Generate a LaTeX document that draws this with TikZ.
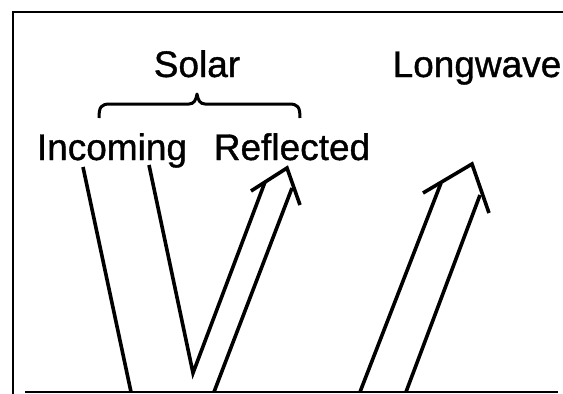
\documentclass[tikz,border=0pt]{standalone}
\usepackage{fontspec}
\setmainfont{Liberation Sans}
\newfontfamily\labelfont[FakeBold=1]{Liberation Sans}
\usepackage{tikz}
\usetikzlibrary{positioning}

\begin{document}
\begin{tikzpicture}[
  x=1pt, y=-1pt,
  ray/.style={line width=3.6pt},
  frameline/.style={line width=2.6pt},
  lbl/.style={inner sep=0pt, anchor=base, font=\labelfont\fontsize{37}{40}\selectfont},
  bracestyle/.style={line width=3pt, line join=round}
]
\useasboundingbox (0,0) rectangle (563,394);

% Frame and ground
\draw[frameline] (563,12) -- (13,12) -- (13,394);
\draw[frameline] (25,392) -- (558,392);

% Labels
\node[lbl] (solar) at (197,77) {Solar};
\node[lbl] (longwave) at (477,77) {Longwave};
\node[lbl] (incoming) at (112,160) {Incoming};
\node[lbl] (reflected) at (292,160) {Reflected};

% Brace over the solar pair
\coordinate (bl) at (99,118);
\coordinate (bm) at (197,94);
\coordinate (br) at (300,118);
\draw[bracestyle] (bl) .. controls (99,107) and (101,104) .. (110,104)
  -- (189,104) .. controls (194,104) and (196,100) .. (bm)
  .. controls (198,100) and (200,104) .. (205,104)
  -- (289,104) .. controls (298,104) and (300,107) .. (br);

% Incoming solar
\coordinate (in1top) at (83,167);
\coordinate (in1bot) at (131,392);
\coordinate (in2top) at (149,165);
\coordinate (vee) at (193,373);
\draw[ray] (in1top) -- (in1bot);

% Reflected solar
\coordinate (rfin) at (265,182);
\coordinate (rfbot) at (214,392);
\coordinate (rfout) at (292,188);
\coordinate (rfl) at (251,191);
\coordinate (rftip) at (287,168);
\coordinate (rfr) at (300,205);
\draw[ray] (in2top) -- (vee) -- (rfin);
\draw[ray] (rfbot) -- (rfout);
\draw[ray] (rfl) -- (rftip) -- (rfr);

% Longwave
\coordinate (lwbot1) at (360,392);
\coordinate (lwin) at (441,183);
\coordinate (lwbot2) at (406,392);
\coordinate (lwout) at (480,195);
\coordinate (lwl) at (423,193);
\coordinate (lwtip) at (472,164);
\coordinate (lwr) at (489,213);
\draw[ray] (lwbot1) -- (lwin);
\draw[ray] (lwbot2) -- (lwout);
\draw[ray] (lwl) -- (lwtip) -- (lwr);

\end{tikzpicture}
\end{document}
